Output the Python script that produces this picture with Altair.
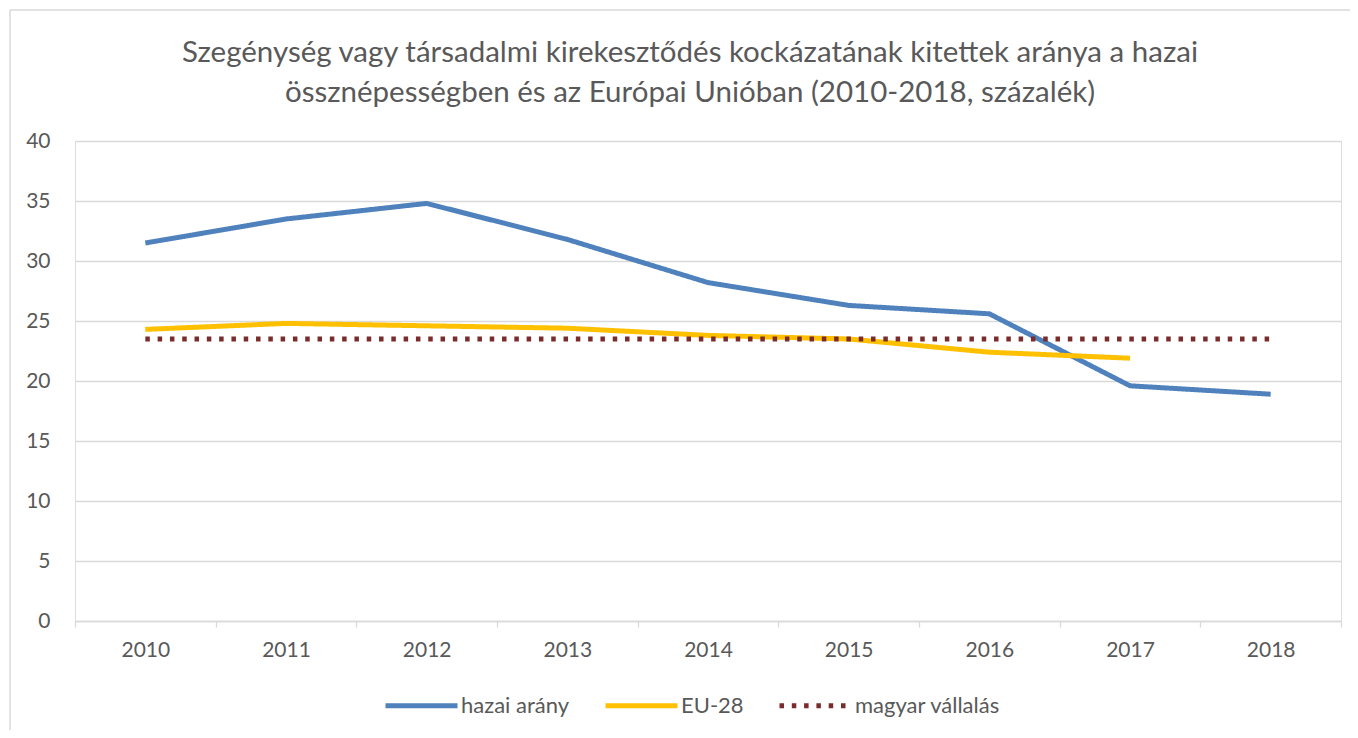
import altair as alt
import pandas as pd

years = ["2010", "2011", "2012", "2013", "2014", "2015", "2016", "2017", "2018"]
hazai = [31.5, 33.5, 34.8, 31.8, 28.2, 26.3, 25.6, 19.6, 18.9]
eu28 = [24.3, 24.8, 24.6, 24.4, 23.8, 23.5, 22.4, 21.9, None]
vallalas = [23.5, 23.5, 23.5, 23.5, 23.5, 23.5, 23.5, 23.5, 23.5]
series = ["hazai arány", "EU-28", "magyar vállalás"]
colors = ["#4F81BD", "#FFC000", "#7A2B2B"]
dashes = [[1, 0], [1, 0], [4.5, 7.8]]
title_lines = [
    "Szegénység vagy társadalmi kirekesztődés kockázatának kitettek aránya a hazai",
    "össznépességben és az Európai Unióban (2010-2018, százalék)",
]

rows = []
for name, vals in zip(series, [hazai, eu28, vallalas]):
    for y, v in zip(years, vals):
        if v is not None:
            rows.append({"year": y, "value": v, "series": name})
df = pd.DataFrame(rows)

FONT = "Lato"
TXT = "#595959"
GRID = "#D9D9D9"

legend_kw = dict(
    title=None, orient="none", direction="horizontal", legendX=308, legendY=526,
    symbolType="stroke", symbolSize=5184, symbolStrokeWidth=5,
    labelFontSize=22, labelColor=TXT, labelFont=FONT, labelOffset=1,
    columnPadding=25, padding=0,
)

lines = alt.Chart(df).mark_line(strokeWidth=5, strokeJoin="round").encode(
    x=alt.X(
        "year:O",
        scale=alt.Scale(type="band", domain=years, paddingInner=0, paddingOuter=0),
        axis=alt.Axis(
            title=None, labelAngle=0, tickBand="extent", ticks=True, tickSize=6,
            tickColor=GRID, tickWidth=1.3, domainColor=GRID, domainWidth=1.3,
            labelFontSize=21, labelColor=TXT, labelFont=FONT, labelPadding=12,
            grid=False,
        ),
    ),
    y=alt.Y(
        "value:Q",
        scale=alt.Scale(domain=[0, 40], nice=False),
        axis=alt.Axis(
            title=None, values=list(range(0, 41, 5)), domain=False, ticks=False,
            gridColor=GRID, gridWidth=1.3, labelFontSize=21, labelColor=TXT,
            labelFont=FONT, labelPadding=25,
        ),
    ),
    color=alt.Color(
        "series:N",
        scale=alt.Scale(domain=series, range=colors),
        legend=alt.Legend(**legend_kw),
    ),
    strokeDash=alt.StrokeDash(
        "series:N",
        scale=alt.Scale(domain=series, range=dashes),
        legend=alt.Legend(**legend_kw),
    ),
    order=alt.Order("year:O"),
)

frame_left = alt.Chart(alt.Data(values=[{}])).mark_rule(color=GRID, strokeWidth=1.5).encode(
    x=alt.value(-65), y=alt.value(-131), y2=alt.value(600)
)
frame_top = alt.Chart(alt.Data(values=[{}])).mark_rule(color=GRID, strokeWidth=1.5).encode(
    x=alt.value(-65), x2=alt.value(1290), y=alt.value(-131)
)

chart = alt.layer(frame_left, frame_top, lines).properties(
    width=1266,
    height=480,
    autosize=alt.AutoSizeParams(type="none"),
    padding={"left": 67, "top": 133, "right": 9, "bottom": 109},
    title=alt.TitleParams(
        text=title_lines, fontSize=29.5, font=FONT, color=TXT, fontWeight="normal",
        anchor="middle", dx=-18, offset=-99, lineHeight=40,
    ),
).configure_view(stroke=None).configure(background="white")

chart.save("out.html", embed_options={"renderer": "svg", "actions": False})
